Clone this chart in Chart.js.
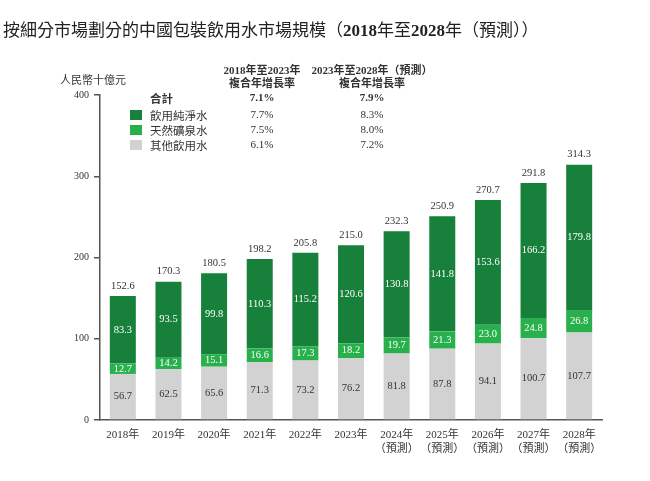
<!DOCTYPE html>
<html>
<head>
<meta charset="utf-8">
<script src="https://cdn.jsdelivr.net/npm/chart.js@4.4.1/dist/chart.umd.min.js"></script>
<style>
  html, body { margin: 0; padding: 0; background: #fff; }
  #wrap { position: relative; width: 650px; height: 481px; overflow: hidden; }
  #c { position: absolute; left: 0; top: 0; }
  .t { position: absolute; white-space: nowrap; color: #333;
       font-family: "Liberation Serif", "Noto Sans CJK TC", serif; }
  #title { left: 3px; top: 16px; font-size: 17px; color: #222;
           font-family: "Noto Sans CJK TC", sans-serif; }
  #title b { font-family: "Liberation Serif", serif; font-weight: bold; }
  #unit { left: 60px; top: 71px; font-size: 11px; }
  .hdr { font-size: 11px; font-weight: bold; text-align: center; line-height: 13px; }
  .cell { font-size: 11px; text-align: center; width: 80px; }
  .lab { font-size: 11.5px; }
  .sw { position: absolute; width: 12px; height: 10px; }
</style>
</head>
<body>
<div id="wrap">
  <canvas id="c" width="650" height="481"></canvas>
  <div id="title" class="t">按細分市場劃分的中國包裝飲用水市場規模（<b>2018</b>年至<b>2028</b>年（預測））</div>
  <div id="unit" class="t">人民幣十億元</div>
  <div id="legend"></div>
</div>
<script>
// ---- data ----
const years = ["2018年","2019年","2020年","2021年","2022年","2023年",
               "2024年\n（預測）","2025年\n（預測）","2026年\n（預測）","2027年\n（預測）","2028年\n（預測）"];
const otherWater     = [56.7, 62.5, 65.6, 71.3, 73.2, 76.2, 81.8, 87.8, 94.1, 100.7, 107.7];
const mineralWater   = [12.7, 14.2, 15.1, 16.6, 17.3, 18.2, 19.7, 21.3, 23.0, 24.8, 26.8];
const purifiedWater  = [83.3, 93.5, 99.8, 110.3, 115.2, 120.6, 130.8, 141.8, 153.6, 166.2, 179.8];
const totals         = [152.6, 170.3, 180.5, 198.2, 205.8, 215.0, 232.3, 250.9, 270.7, 291.8, 314.3];
const yTicks         = [0, 100, 200, 300, 400];

const seriesNames = ["飲用純淨水", "天然礦泉水", "其他飲用水"];
const cagrHeaders = ["2018年至2023年\n複合年增長率", "2023年至2028年（預測）\n複合年增長率"];
const cagrTotal   = ["7.1%", "7.9%"];
const cagr1823    = ["7.7%", "7.5%", "6.1%"];
const cagr2328    = ["8.3%", "8.0%", "7.2%"];

const colors = { purified: "#17803b", mineral: "#27b04c", other: "#d2d2d2" };
const FONT = '"Liberation Serif", "Noto Sans CJK TC", serif';

// ---- legend / CAGR table (HTML text) ----
(function () {
  const lg = document.getElementById("legend");
  const add = (html, cls, left, top, extra) => {
    const d = document.createElement("div");
    d.className = "t " + cls;
    d.style.left = left + "px"; d.style.top = top + "px";
    if (extra) Object.assign(d.style, extra);
    d.innerHTML = html;
    lg.appendChild(d);
    return d;
  };
  const colX = [262, 372];
  cagrHeaders.forEach((h, i) => {
    const d = add(h.replace("\n", "<br>"), "hdr", colX[i] - 75, 64, { width: "150px" });
  });
  add("合計", "lab", 150, 90, { fontWeight: "bold" });
  cagrTotal.forEach((v, i) => add(v, "cell", colX[i] - 40, 91, { fontWeight: "bold" }));
  const swCol = [colors.purified, colors.mineral, colors.other];
  const rowY = [107, 122, 137];
  seriesNames.forEach((n, r) => {
    const s = document.createElement("div");
    s.className = "sw"; s.style.left = "130px"; s.style.top = (rowY[r] + 3) + "px";
    s.style.background = swCol[r];
    lg.appendChild(s);
    add(n, "lab", 150, rowY[r]);
    add(cagr1823[r], "cell", colX[0] - 40, rowY[r] + 1);
    add(cagr2328[r], "cell", colX[1] - 40, rowY[r] + 1);
  });
})();

// ---- value labels plugin ----
const valueLabels = {
  id: "valueLabels",
  afterDatasetsDraw(chart) {
    const ctx = chart.ctx;
    ctx.save();
    ctx.font = "10.5px " + FONT;
    ctx.textAlign = "center";
    ctx.textBaseline = "middle";
    chart.data.datasets.forEach((ds, di) => {
      const meta = chart.getDatasetMeta(di);
      meta.data.forEach((bar, i) => {
        const p = bar.getProps(["x", "y", "base"], true);
        ctx.fillStyle = di === 0 ? "#333" : "#fff";
        ctx.fillText(ds.data[i].toFixed(1), p.x, (p.y + p.base) / 2);
      });
    });
    const top = chart.getDatasetMeta(chart.data.datasets.length - 1);
    ctx.fillStyle = "#333";
    top.data.forEach((bar, i) => {
      const p = bar.getProps(["x", "y"], true);
      ctx.fillText(totals[i].toFixed(1), p.x, p.y - 10);
    });
    ctx.restore();
  }
};

new Chart(document.getElementById("c"), {
  type: "bar",
  data: {
    labels: years.map(s => s.split("\n")),
    datasets: [
      { label: seriesNames[2], data: otherWater, backgroundColor: colors.other },
      { label: seriesNames[1], data: mineralWater, backgroundColor: colors.mineral },
      { label: seriesNames[0], data: purifiedWater, backgroundColor: colors.purified }
    ]
  },
  options: {
    responsive: false,
    animation: false,
    devicePixelRatio: 1,
    layout: { padding: { left: 0, right: 48, top: 95, bottom: 0 } },
    plugins: { legend: { display: false }, title: { display: false }, tooltip: { enabled: false } },
    datasets: { bar: { barPercentage: 0.57, categoryPercentage: 1.0 } },
    scales: {
      x: {
        stacked: true,
        grid: { display: true, drawOnChartArea: false, drawTicks: false },
        border: { display: true, color: "#555", width: 1.5 },
        ticks: { color: "#333", font: { family: FONT, size: 11 }, padding: 9, maxRotation: 0, autoSkip: false },
        afterFit(scale) { scale.height = 61; }
      },
      y: {
        stacked: true,
        min: 0, max: 400,
        afterBuildTicks(scale) { scale.ticks = yTicks.map(v => ({ value: v })); },
        grid: { display: true, drawOnChartArea: false, drawTicks: true, tickLength: 6, color: "#555", lineWidth: 1.5 },
        border: { display: true, color: "#555", width: 1.5 },
        ticks: { color: "#333", font: { family: FONT, size: 10 }, padding: 5 },
        afterFit(scale) { scale.width = 100; }
      }
    }
  },
  plugins: [valueLabels]
});
</script>
</body>
</html>
